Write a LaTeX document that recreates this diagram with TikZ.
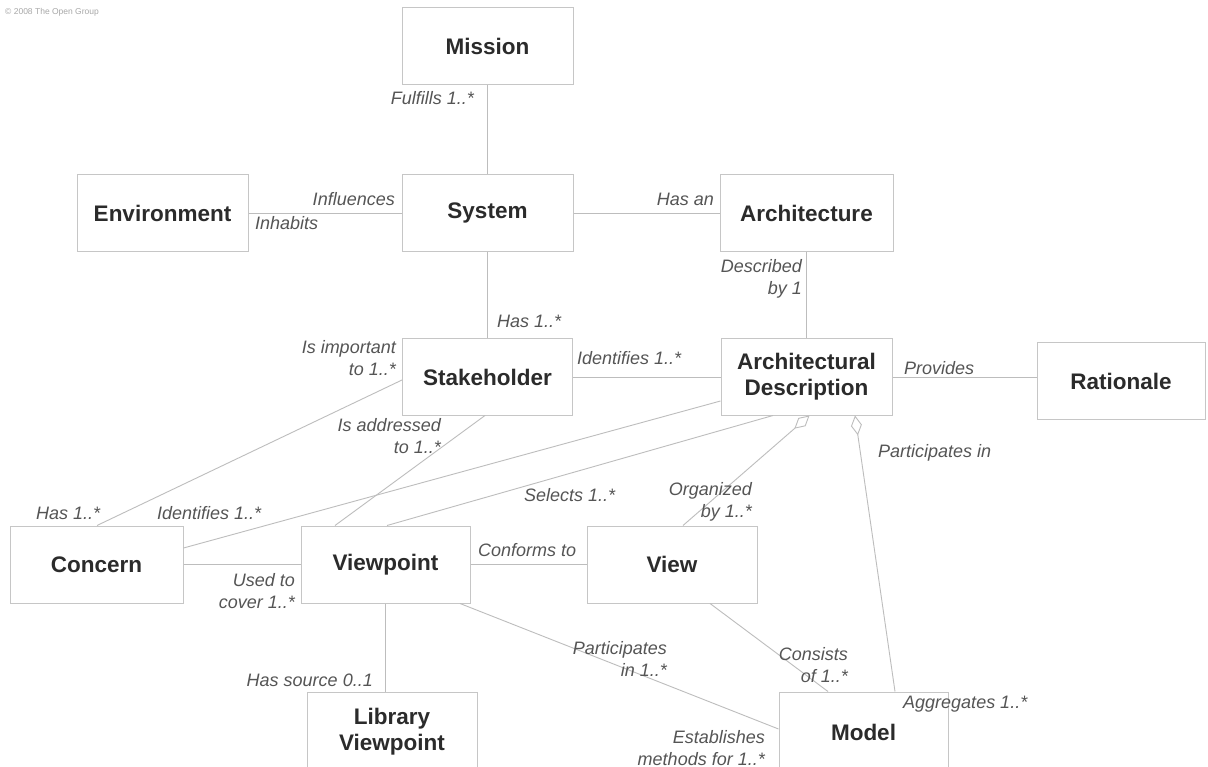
\documentclass[tikz,border=0pt]{standalone}
\usepackage{fontspec}
\setmainfont{Liberation Sans}
\usetikzlibrary{arrows.meta}
\definecolor{boxline}{HTML}{C6C6C6}
\definecolor{linkline}{HTML}{BDBDBD}
\definecolor{boxtext}{HTML}{2B2B2B}
\definecolor{roletext}{HTML}{555555}
\definecolor{notetext}{HTML}{A8A8A8}
\tikzset{
  entity/.style={draw=boxline, line width=1pt, fill=white, inner sep=0pt,
    align=center, text=boxtext, font=\fontsize{22.5}{26}\selectfont\bfseries},
  link/.style={draw=linkline, line width=0.9pt},
  aggr/.style={link, -{Diamond[open, length=20pt, width=11pt, line width=0.9pt]}},
  role/.style={inner sep=0pt, text=roletext, font=\fontsize{18}{22}\selectfont\itshape},
  roleR/.style={role, anchor=north east, align=right},
  roleL/.style={role, anchor=north west, align=left}
}
\begin{document}
\begin{tikzpicture}[x=1pt, y=-1pt]
\useasboundingbox (0,0) rectangle (1208,767);
\clip (0,0) rectangle (1208,767);
\fill[white] (0,0) rectangle (1208,767);

% entities
\node[entity, minimum width=171pt, minimum height=77pt] (mission)   at (487.5,46.5) {Mission};
\node[entity, minimum width=171pt, minimum height=77pt] (env)       at (162.5,213)  {Environment};
\node[entity, minimum width=171pt, minimum height=77pt] (system)    at (487.5,213)  {System};
\node[entity, minimum width=173pt, minimum height=77pt] (arch)      at (806.5,213)  {Architecture};
\node[entity, minimum width=170pt, minimum height=76pt] (stake)     at (487.5,377)  {Stakeholder};
\node[entity, minimum width=171pt, minimum height=76pt] (archdesc)  at (806.5,377)  {Architectural\\Description};
\node[entity, minimum width=168pt, minimum height=76pt] (rationale) at (1121,381)   {Rationale};
\node[entity, minimum width=173pt, minimum height=77pt] (concern)   at (96.5,564.5) {Concern};
\node[entity, minimum width=169pt, minimum height=77pt] (viewpoint) at (385.5,564.5) {Viewpoint};
\node[entity, minimum width=170pt, minimum height=77pt] (view)      at (672,564.5)  {View};
\node[entity, minimum width=170pt, minimum height=80pt] (libvp)     at (392,732)    {Library\\Viewpoint};
\node[entity, minimum width=169pt, minimum height=80pt] (model)     at (863.5,732)  {Model};

% associations
\draw[link] (mission.south) -- (system.north);
\draw[link] (env.east) -- (system.west);
\draw[link] (system.east) -- (arch.west);
\draw[link] (system.south) -- (stake.north);
\draw[link] (arch.south) -- (archdesc.north);
\draw[link] (stake.east) -- (archdesc.west);
\draw[link] (archdesc.east) -- (archdesc.east -| rationale.west);
\draw[link] ([yshift=-3pt]stake.west) -- ([xshift=0.5pt]concern.north);
\draw[link] ([xshift=-2.5pt]stake.south) -- ([xshift=-50.5pt]viewpoint.north);
\draw[link] ([yshift=-24pt]archdesc.west) -- ([yshift=16.5pt]concern.east);
\draw[link] ([xshift=-33.5pt]archdesc.south) -- ([xshift=1.5pt]viewpoint.north);
\draw[link] (concern.east) -- (viewpoint.west);
\draw[link] (viewpoint.east) -- (view.west);
\draw[link] ([xshift=74.5pt]viewpoint.south) -- ([yshift=3pt]model.west);
\draw[link] ([xshift=38pt]view.south) -- ([xshift=-35.5pt]model.north);
\draw[link] (viewpoint.south) -- (viewpoint.south |- libvp.north);

% aggregations into the architectural description
\draw[aggr] ([xshift=11pt]view.north) -- ([xshift=3pt]archdesc.south);
\draw[aggr] ([xshift=31.5pt]model.north) -- ([xshift=48.5pt]archdesc.south);

% role names
\node[roleR] (r1)  at (474,91)    {Fulfills 1..*};
\node[roleR] (r2)  at (395,192.5) {Influences};
\node[roleL] (r3)  at (255,216.5) {Inhabits};
\node[roleR] (r4)  at (714,192.5) {Has an};
\node[roleR] (r5)  at (802,259.5) {Described\\by 1};
\node[roleL] (r6)  at (497,314.5) {Has 1..*};
\node[roleR] (r7)  at (396,340.5) {Is important\\to 1..*};
\node[roleL] (r8)  at (577,351.5) {Identifies 1..*};
\node[roleL] (r9)  at (904,361.5) {Provides};
\node[roleL] (r10) at (878,444.5) {Participates in};
\node[roleR] (r11) at (441,418.5) {Is addressed\\to 1..*};
\node[roleL] (r12) at (524,488)   {Selects 1..*};
\node[roleR] (r13) at (752,482.5) {Organized\\by 1..*};
\node[roleL] (r14) at (36,506.5)  {Has 1..*};
\node[roleL] (r15) at (157,506.5) {Identifies 1..*};
\node[roleL] (r16) at (478,543.5) {Conforms to};
\node[roleR] (r17) at (295,573.5) {Used to\\cover 1..*};
\node[roleR] (r18) at (667,641.5) {Participates\\in 1..*};
\node[roleR] (r19) at (848,647.5) {Consists\\of 1..*};
\node[roleR] (r20) at (373,673.5) {Has source 0..1};
\node[roleL] (r21) at (903,695.5) {Aggregates 1..*};
\node[roleR] (r22) at (765,730)   {Establishes\\methods for 1..*};

% copyright line
\node[anchor=north west, inner sep=0pt, text=notetext, font=\fontsize{8.5}{10}\selectfont] (copy) at (5,8) {© 2008 The Open Group};
\end{tikzpicture}
\end{document}
